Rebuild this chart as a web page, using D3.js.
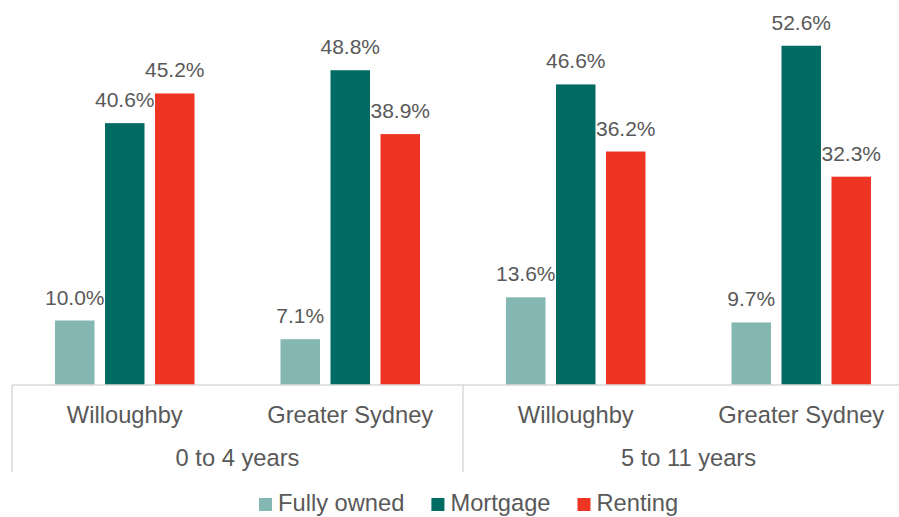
<!DOCTYPE html>
<html>
<head>
<meta charset="utf-8">
<script src="https://cdn.jsdelivr.net/npm/d3@7"></script>
<style>
  html, body { margin: 0; padding: 0; background: #fff; }
  svg { display: block; font-family: "Liberation Sans", Arial, sans-serif; }
</style>
</head>
<body>
<svg id="chart" width="899" height="517"></svg>
<script>
// ---- data ----
const groups = ["0 to 4 years", "5 to 11 years"];
const areas = ["Willoughby", "Greater Sydney", "Willoughby", "Greater Sydney"];
const categoryGroup = [0, 0, 1, 1];
const series = ["Fully owned", "Mortgage", "Renting"];
const fullyOwned = [10.0, 7.1, 13.6, 9.7];
const mortgage = [40.6, 48.8, 46.6, 52.6];
const renting = [45.2, 38.9, 36.2, 32.3];
const colors = ["#84B7B1", "#006B63", "#EE3524"];

const seriesValues = [fullyOwned, mortgage, renting];

const svg = d3.select("#chart");
const baseY = 385;
const left = 12, right = 914;

const x0 = d3.scaleBand().domain(d3.range(areas.length)).range([left, right]).padding(0);
const innerW = 150;
const x1 = d3.scaleBand().domain(series).range([0, innerW]).paddingInner(0.21).paddingOuter(0.105);
const y = d3.scaleLinear().domain([0, 60]).range([baseY, baseY - 60 * 6.45]);

const color = d3.scaleOrdinal().domain(series).range(colors);

// bars
const rows = [];
areas.forEach((a, i) => {
  series.forEach((s, j) => rows.push({ cat: i, s, v: seriesValues[j][i] }));
});
const offset = (x0.bandwidth() - innerW) / 2;

svg.append("g").selectAll("rect").data(rows).join("rect")
  .attr("x", d => x0(d.cat) + offset + x1(d.s))
  .attr("y", d => y(d.v))
  .attr("width", x1.bandwidth())
  .attr("height", d => baseY - y(d.v))
  .attr("fill", d => color(d.s));

// data labels
svg.append("g").selectAll("text").data(rows).join("text")
  .attr("x", d => x0(d.cat) + offset + x1(d.s) + x1.bandwidth() / 2)
  .attr("y", d => y(d.v) - 16)
  .attr("text-anchor", "middle")
  .attr("font-size", "21px")
  .attr("fill", "#595959")
  .text(d => d.v.toFixed(1) + "%");

// axis baseline
svg.append("line")
  .attr("x1", left).attr("x2", 899)
  .attr("y1", baseY).attr("y2", baseY)
  .attr("stroke", "#D9D9D9").attr("stroke-width", 1.5);

// group separators
const groupScale = d3.scaleBand().domain(d3.range(groups.length)).range([left, right]);
const seps = d3.range(groups.length + 1).map(i => left + i * groupScale.step());
svg.append("g").selectAll("line").data(seps).join("line")
  .attr("x1", d => d).attr("x2", d => d)
  .attr("y1", baseY).attr("y2", 472)
  .attr("stroke", "#D9D9D9").attr("stroke-width", 1.5);

// category axis
const catAxis = d3.axisBottom(x0).tickSize(0).tickPadding(0).tickFormat(i => areas[i]);
const gCat = svg.append("g").attr("transform", `translate(0,${baseY})`).call(catAxis);
gCat.select(".domain").remove();
gCat.selectAll("text")
  .attr("y", 38).attr("dy", null)
  .attr("font-size", "23.7px")
  .attr("font-family", "Liberation Sans, Arial, sans-serif")
  .attr("fill", "#595959");

// group axis
const grpAxis = d3.axisBottom(groupScale).tickSize(0).tickPadding(0).tickFormat(i => groups[i]);
const gGrp = svg.append("g").attr("transform", `translate(0,${baseY})`).call(grpAxis);
gGrp.select(".domain").remove();
gGrp.selectAll("text")
  .attr("y", 81).attr("dy", null)
  .attr("font-size", "23.7px")
  .attr("font-family", "Liberation Sans, Arial, sans-serif")
  .attr("fill", "#595959");

// legend
const legend = svg.append("g");
let lx = 259;
series.forEach((s, j) => {
  legend.append("rect")
    .attr("x", lx).attr("y", 498)
    .attr("width", 13).attr("height", 13)
    .attr("fill", color(s));
  const t = legend.append("text")
    .attr("x", lx + 19).attr("y", 511)
    .attr("font-size", "23.7px")
    .attr("fill", "#595959")
    .text(s);
  lx += 19 + t.node().getComputedTextLength() + 27;
});
</script>
</body>
</html>
